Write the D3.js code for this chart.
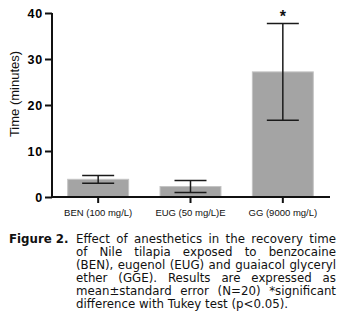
<!DOCTYPE html>
<html><head><meta charset="utf-8">
<script src="https://cdn.jsdelivr.net/npm/d3@7"></script>
<style>
html,body{margin:0;padding:0;background:#fff;}
#wrap{position:relative;width:337px;height:323px;overflow:hidden;}
svg{position:absolute;left:0;top:0;}
#cap{position:absolute;left:9px;top:233px;width:327px;font-family:"DejaVu Sans",Verdana,sans-serif;font-size:11.8px;line-height:13.1px;color:#111;}
#cap .fig{position:absolute;left:0;top:0;font-weight:bold;}
#cap .ln{margin-left:67px;text-align:justify;text-align-last:justify;white-space:nowrap;}
#cap .last{text-align-last:left;}
</style></head>
<body><div id="wrap"><svg id="chart" width="337" height="232"></svg><div id="cap"></div></div>
<script>
const categories = ["BEN (100 mg/L)", "EUG (50 mg/L)E", "GG (9000 mg/L)"];
const means = [3.85, 2.28, 27.2];
const sems = [0.85, 1.28, 10.5];
const yTicks = [0, 10, 20, 30, 40];
const yLabel = "Time (minutes)";
const marks = ["", "", "*"];
const captionBold = "Figure 2.";
const captionLines = [
  "Effect of anesthetics in the recovery time",
  "of Nile tilapia exposed to benzocaine",
  "(BEN), eugenol (EUG) and guaiacol glyceryl",
  "ether (GGE). Results are expressed as",
  "mean\u00b1standard error (N=20) *significant",
  "difference with Tukey test (p<0.05)."
];

const svg = d3.select("#chart");
const x = d3.scaleBand().domain(categories).range([52, 329]).paddingInner(0.34).paddingOuter(0.17);
const y = d3.scaleLinear().domain([0, 40]).range([197, 13]);

// bars
svg.selectAll("rect.bar").data(categories).enter().append("rect")
  .attr("x", d => x(d)).attr("width", x.bandwidth())
  .attr("y", (d, i) => y(means[i])).attr("height", (d, i) => y(0) - y(means[i]))
  .attr("fill", "#a4a4a4").attr("stroke", "#c4c4c4").attr("stroke-width", 1);

// error bars
const capW = 32;
const eg = svg.append("g").attr("stroke", "#1a1a1a").attr("stroke-width", 1.5);
categories.forEach((c, i) => {
  const cx = x(c) + x.bandwidth() / 2;
  const hi = y(means[i] + sems[i]), lo = y(means[i] - sems[i]);
  eg.append("line").attr("x1", cx).attr("x2", cx).attr("y1", hi).attr("y2", lo);
  eg.append("line").attr("x1", cx - capW / 2).attr("x2", cx + capW / 2).attr("y1", hi).attr("y2", hi);
  eg.append("line").attr("x1", cx - capW / 2).attr("x2", cx + capW / 2).attr("y1", lo).attr("y2", lo);
  if (marks[i]) {
    svg.append("text").attr("x", cx).attr("y", hi - 2).attr("text-anchor", "middle")
      .attr("font-family", "Liberation Sans, Arial, sans-serif").attr("font-size", 16).attr("font-weight", "bold")
      .attr("fill", "#111").text(marks[i]);
  }
});

// y axis
const ya = svg.append("g").attr("transform", "translate(52,0)")
  .call(d3.axisLeft(y).tickValues(yTicks).tickSize(7).tickPadding(2).tickFormat(d3.format("d")));
ya.select(".domain").attr("stroke", "#111").attr("stroke-width", 2).attr("d", `M0,${y(40)}V${y(0)}`);
ya.selectAll(".tick line").attr("stroke", "#111").attr("stroke-width", 2);
ya.selectAll(".tick text").attr("font-family", "Liberation Sans, Arial, sans-serif").attr("font-size", 12.5)
  .attr("font-weight", "bold").attr("letter-spacing", "0.8px").attr("fill", "#000");

// x axis
const xa = svg.append("g").attr("transform", `translate(0,${y(0)})`)
  .call(d3.axisBottom(x).tickSize(6).tickPadding(6));
xa.select(".domain").attr("stroke", "#111").attr("stroke-width", 2).attr("d", `M51,0H330`);
xa.selectAll(".tick line").attr("stroke", "#111").attr("stroke-width", 2);
xa.selectAll(".tick text").attr("font-family", "Liberation Sans, Arial, sans-serif").attr("font-size", 9.5)
  .attr("fill", "#111");

// y label
svg.append("text").attr("transform", "translate(19,94) rotate(-90)").attr("text-anchor", "middle")
  .attr("font-family", "Liberation Sans, Arial, sans-serif").attr("font-size", 13).attr("fill", "#111")
  .text(yLabel);

// caption
const cap = d3.select("#cap");
cap.append("div").attr("class", "fig").text(captionBold);
captionLines.forEach((t, i) => {
  cap.append("div").attr("class", "ln" + (i === captionLines.length - 1 ? " last" : "")).text(t);
});
</script></body></html>
